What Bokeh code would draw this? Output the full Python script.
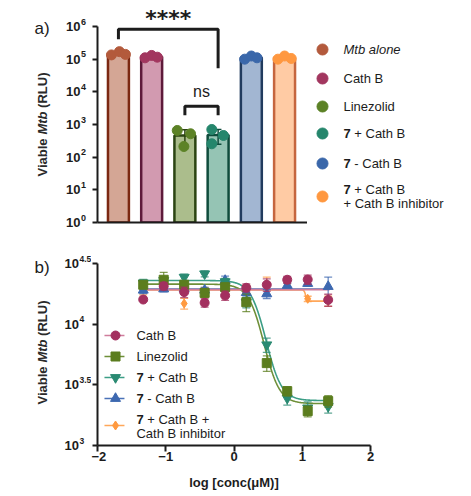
import numpy as np
from bokeh.plotting import figure
from bokeh.models import Range1d, FixedTicker, CustomJSTickFormatter
from bokeh.layouts import column, row
from bokeh.embed import file_html
from bokeh.resources import INLINE
from bokeh.core.properties import value

FONT = "Liberation Sans"
INK = "#1c1c1c"

# ---------------- panel a: viable Mtb after treatment ----------------
groups = ["Mtb alone", "Cath B", "Linezolid", "7 + Cath B", "7 - Cath B",
          "7 + Cath B + Cath B inhibitor"]
rep1 = [1.35e5, 1.10e5, 656, 703, 1.00e5, 1.00e5]
rep2 = [1.70e5, 1.30e5, 520, 461, 1.25e5, 1.25e5]
rep3 = [1.40e5, 1.15e5, 212, 257, 1.10e5, 1.05e5]
a_exps = ["0", "1", "2", "3", "4", "5", "6"]

bar_fill = ["#D4A695", "#D29AB0", "#ABBD8C", "#95C4B4", "#A2B6D2", "#FFCBA4"]
bar_line = ["#7B2812", "#5E1A3A", "#2B4412", "#0F4C3C", "#213B5E", "#C5663F"]
dot_col = ["#B35A3C", "#A2365F", "#5C8226", "#25866C", "#3A67AA", "#FF9840"]

# horizontal spread of the replicate dots on each bar
spread = [[-0.21, 0.03, 0.21], [-0.20, 0.0, 0.17], [-0.23, 0.17, -0.03],
          [-0.19, 0.16, -0.19], [-0.20, 0.0, 0.17], [-0.20, 0.0, 0.20]]

reps = np.array([rep1, rep2, rep3])
means = reps.mean(axis=0)
sds = reps.std(axis=0, ddof=1)
xpos = np.arange(1, len(groups) + 1)
a_ticks = [10.0 ** int(e) for e in a_exps]

# page geometry (pixels from the top-left of the page)
HA, HB = 240, 256
SIDE_A, SIDE_B = 90, 91        # widths of the strips holding tick labels and titles
A_X0, A_X1 = 97, 307           # panel a plot area, left/right
A_Y6, A_Y0 = 26, 222           # panel a: height of 1e6 / 1e0
A_XR = (0.37, 6.69)
DEC_A = (A_Y0 - A_Y6) / 6.0
B_X0, B_X1 = 97, 370
B_YT, B_YB = 263, 445          # panel b plot area top (10^4.5) / bottom (10^3)
DEC_B = (B_YB - B_YT) / 1.5


def a_val(ypix):
    return 10 ** (6 - (ypix - A_Y6) / DEC_A)


def b_val(ypix):
    return 10 ** (4.5 - (ypix - B_YT) / DEC_B)


def b_val_local(ypix):
    return b_val(ypix + HA)


blank = CustomJSTickFormatter(code="return ' '")


def hide_labels(ax):
    ax.formatter = blank
    ax.major_label_text_font_size = "1px"
    ax.major_label_text_color = None
    ax.major_label_standoff = 0


def plain(fig):
    fig.outline_line_color = None
    fig.grid.visible = False
    fig.frame_align = False
    return fig


def side_texts(fig, ticks, exps, val, title_yc, label_y, label, x10, exp_size):
    """tick labels 10^n, the rotated axis title and the panel letter"""
    fig.text(x=[x10] * len(ticks), y=ticks, text=["10"] * len(ticks), text_align="right",
             text_baseline="middle", text_font=value(FONT), text_font_size="13px",
             text_font_style="bold", text_color=INK)
    ex_y = [t * (val(0) / val(5)) for t in ticks]
    fig.text(x=[x10 + 0.5] * len(ticks), y=ex_y, text=exps, text_align="left",
             text_baseline="middle", text_font=value(FONT), text_font_size=exp_size,
             text_font_style="bold", text_color=INK)
    # "Viable Mtb (RLU)" read bottom-to-top, organism name in italics
    parts = [("Viable", "bold", 0.0), ("Mtb", "bold italic", 41.9), ("(RLU)", "bold", 68.6)]
    total = 104.0
    ybot = title_yc + total / 2
    for txt, style, off in parts:
        fig.text(x=[42], y=[val(ybot - off)], text=[txt], angle=np.pi / 2, text_align="left",
                 text_baseline="middle", text_font=value(FONT), text_font_size="13px",
                 text_font_style=style, text_color="#2a2a2a")
    fig.text(x=[34], y=[val(label_y)], text=[label], text_baseline="middle",
             text_font=value(FONT), text_font_size="17px", text_color=INK)


# left strip of panel a
ya = plain(figure(width=SIDE_A, height=HA, x_range=Range1d(0, SIDE_A),
                  y_range=Range1d(a_val(HA), a_val(0)), y_axis_type="log",
                  x_axis_location=None, y_axis_location=None, min_border=0,
                  output_backend="svg", toolbar_location=None))
side_texts(ya, a_ticks, a_exps, a_val, 124, 28, "a)", 80, "9px")

# bar chart; its plot area reaches the top of the page so the stars fit inside,
# while the y axis itself stops at 1e6
pa = plain(figure(width=A_X1 - SIDE_A, height=HA, y_axis_type="log",
                  x_range=Range1d(*A_XR), y_range=Range1d(1, a_val(0)),
                  output_backend="svg", toolbar_location=None,
                  min_border_left=A_X0 - SIDE_A, min_border_right=0,
                  min_border_top=0, min_border_bottom=HA - A_Y0))

pa.vbar(x=xpos, top=means, bottom=1, width=0.63, fill_color=bar_fill,
        line_color=bar_line, line_width=2.5)

# error bars (mean +/- SD) on the low groups
for i in (2, 3):
    lo, hi = means[i] - sds[i], means[i] + sds[i]
    pa.segment(x0=[xpos[i]], y0=[lo], x1=[xpos[i]], y1=[hi], line_color=bar_line[i], line_width=1.5)
    pa.segment(x0=[xpos[i] - 0.1, xpos[i] - 0.1], y0=[lo, hi], x1=[xpos[i] + 0.1, xpos[i] + 0.1],
               y1=[lo, hi], line_color=bar_line[i], line_width=1.5)

for i in range(len(groups)):
    pa.scatter(x=[xpos[i] + d for d in spread[i]], y=list(reps[:, i]), size=10,
               fill_color=dot_col[i], line_color=dot_col[i])

# significance brackets
pa.line(x=[1, 1, 4, 4], y=[10**5.61, 10**5.914, 10**5.914, 10**4.72], line_color=INK, line_width=3)
pa.line(x=[3, 3, 4, 4], y=[10**3.285, 10**3.56, 10**3.56, 10**3.285], line_color=INK, line_width=3)
pa.text(x=[2.5], y=[a_val(18)], text=["****"], text_align="center", text_baseline="middle",
        text_font=value("DejaVu Sans"), text_font_size="22px", text_font_style="bold", text_color=INK)
pa.text(x=[3.5], y=[10**4.0], text=["ns"], text_align="center", text_baseline="middle",
        text_font=value(FONT), text_font_size="16px", text_color=INK)

pa.xaxis.ticker = FixedTicker(ticks=list(xpos))
pa.xaxis.major_tick_line_color = None
hide_labels(pa.xaxis)
pa.yaxis.ticker = FixedTicker(ticks=a_ticks)
pa.yaxis.bounds = (1, 1e6)
hide_labels(pa.yaxis)
for ax in (pa.xaxis, pa.yaxis):
    ax.axis_line_width = 2
    ax.axis_line_color = INK
    ax.minor_tick_line_color = None
pa.yaxis.major_tick_line_width = 2
pa.yaxis.major_tick_line_color = INK
pa.yaxis.major_tick_out = 5
pa.yaxis.major_tick_in = 0

# legend for panel a (own canvas, y measured downward)
la = plain(figure(width=471 - A_X1, height=HA, x_range=Range1d(0, 471 - A_X1), y_range=Range1d(HA, 0),
                  x_axis_location=None, y_axis_location=None, min_border=0,
                  output_backend="svg", toolbar_location=None))
leg_rows = [49, 78, 106, 133, 163, 196]
la.scatter(x=[15] * 6, y=leg_rows, size=11, fill_color=dot_col, line_color=dot_col)
tx = 36
la.text(x=[tx], y=[leg_rows[0]], text=["Mtb alone"], text_font=value(FONT), text_font_size="13px",
        text_font_style="italic", text_baseline="middle", text_color=INK)
la.text(x=[tx, tx], y=[leg_rows[1], leg_rows[2]], text=["Cath B", "Linezolid"], text_font=value(FONT),
        text_font_size="13px", text_baseline="middle", text_color=INK)
la.text(x=[tx, tx, tx], y=[leg_rows[3], leg_rows[4], 189], text=["7", "7", "7"],
        text_font=value(FONT), text_font_size="13px", text_font_style="bold", text_baseline="middle",
        text_color=INK)
la.text(x=[tx + 10.8, tx + 10.8, tx + 10.8, tx], y=[leg_rows[3], leg_rows[4], 189, 203],
        text=["+ Cath B", "- Cath B", "+ Cath B", "+ Cath B inhibitor"], text_font=value(FONT),
        text_font_size="13px", text_baseline="middle", text_color=INK)

# ---------------- panel b: dose response ----------------
logc = [-1.33, -1.03, -0.73, -0.43, -0.13, 0.18, 0.48, 0.78, 1.08, 1.38]

cathb = [15960, 20560, 18370, 15000, 17220, 19950, 21130, 23230, 23330, 15850]
cathb_sd = [500, 1500, 1800, 1200, 1500, 1500, 2500, 1500, 2000, 1800]
linez = [21130, 23230, 21130, 18110, 20180, 15170, 4775, 2805, 1919, 2323]
linez_sd = [1500, 3500, 1500, 1500, 1500, 2500, 700, 250, 200, 250]
c7_cathb = [21880, 22910, 24380, 26000, 22390, 15140, 6761, 2455, 2042, 2099]
c7_cathb_sd = [1500, 1500, 1500, 1500, 1500, 1500, 900, 300, 250, 250]
c7_nocathb = [19050, 19500, 19500, 19050, 22910, 18200, 17780, 20850, 21630, 20420]
c7_nocathb_sd = [1200, 1000, 1000, 1000, 2000, 1500, 1500, 1000, 1000, 4000]
c7_inhib = [19950, 20180, 14790, 18620, 19500, 19500, 20890, 21380, 16180, 15490]
c7_inhib_sd = [2500, 1000, 1500, 1500, 1000, 1500, 3500, 1500, 800, 1500]
b_exps = ["3", "3.5", "4", "4.5"]
b_ticks = [10 ** float(e) for e in b_exps]

# fitted curves: log10 top, log10 bottom, logIC50, Hill slope
fit_cathb = [4.285, 4.285, 0.0, 1.0]
fit_linez = [4.33, 3.345, 0.44, 3.8]
fit_c7_cathb = [4.36, 3.37, 0.47, 3.8]
fit_c7_nocathb = [4.29, 4.29, 0.0, 1.0]
fit_c7_inhib = [4.283, 4.19, 1.05, 40.0]

series = [
    ("Cath B", cathb, cathb_sd, fit_cathb, "circle", 9, "#A3305F", "#CF7D9C"),
    ("Linezolid", linez, linez_sd, fit_linez, "square", 9, "#5B7D1E", "#6E8F38"),
    ("7 + Cath B", c7_cathb, c7_cathb_sd, fit_c7_cathb, "inverted_triangle", 10, "#2A8A72", "#3C9E86"),
    ("7 - Cath B", c7_nocathb, c7_nocathb_sd, fit_c7_nocathb, "triangle", 10, "#3D68B0", "#4A72B8"),
    ("7 + Cath B + Cath B inhibitor", c7_inhib, c7_inhib_sd, fit_c7_inhib, "diamond", 9, "#FF9A40", "#FFA75A"),
]

# left strip of panel b
yb = plain(figure(width=SIDE_B, height=HB, x_range=Range1d(0, SIDE_B),
                  y_range=Range1d(b_val_local(HB), b_val_local(0)), y_axis_type="log",
                  x_axis_location=None, y_axis_location=None, min_border=0,
                  output_backend="svg", toolbar_location=None))
side_texts(yb, b_ticks, b_exps, b_val_local, 352 - HA, 267 - HA, "b)", 78.5, "8.5px")

pb = plain(figure(width=471 - SIDE_B, height=HB, y_axis_type="log",
                  x_range=Range1d(-2, 2), y_range=Range1d(10**3, 10**4.5),
                  output_backend="svg", toolbar_location=None,
                  min_border_left=B_X0 - SIDE_B, min_border_right=471 - B_X1,
                  min_border_top=B_YT - HA, min_border_bottom=HA + HB - B_YB))

xs = np.linspace(-1.38, 1.40, 300)
draw_order = [4, 3, 2, 1, 0]
for k in draw_order:
    name, ys, sd, fit, mk, sz, col, lcol = series[k]
    top, bot, ic50, hill = fit
    curve = bot + (top - bot) / (1 + 10 ** ((xs - ic50) * hill))
    pb.line(x=xs, y=10 ** curve, line_color=lcol, line_width=1.6)

for k in draw_order:
    name, ys, sd, fit, mk, sz, col, lcol = series[k]
    lo = [y - s for y, s in zip(ys, sd)]
    hi = [y + s for y, s in zip(ys, sd)]
    pb.segment(x0=logc, y0=lo, x1=logc, y1=hi, line_color=col, line_alpha=0.75, line_width=1.3)
    cx0 = [c - 0.058 for c in logc]
    cx1 = [c + 0.058 for c in logc]
    pb.segment(x0=cx0 + cx0, y0=lo + hi, x1=cx1 + cx1, y1=lo + hi, line_color=col, line_alpha=0.75,
               line_width=1.3)
    pb.scatter(x=logc, y=ys, marker=mk, size=sz, fill_color=col, line_color=col)

# legend for panel b
lx0, lx1, lxm, ltx = -1.898, -1.605, -1.736, -1.43
leg_y = [335, 356, 377, 398, 425]
for k in range(5):
    name, ys, sd, fit, mk, sz, col, lcol = series[k]
    pb.line(x=[lx0, lx1], y=[b_val(leg_y[k])] * 2, line_color=lcol, line_width=1.6)
    pb.scatter(x=[lxm], y=[b_val(leg_y[k])], marker=mk, size=sz, fill_color=col, line_color=col)

step7 = 10.8 / ((B_X1 - B_X0) / 4.0)
pb.text(x=[ltx, ltx], y=[b_val(335), b_val(356)], text=["Cath B", "Linezolid"],
        text_font=value(FONT), text_font_size="13px", text_baseline="middle", text_color=INK)
pb.text(x=[ltx, ltx, ltx], y=[b_val(377), b_val(398), b_val(419)], text=["7", "7", "7"],
        text_font=value(FONT), text_font_size="13px", text_font_style="bold", text_baseline="middle",
        text_color=INK)
pb.text(x=[ltx + step7, ltx + step7, ltx + step7, ltx],
        y=[b_val(377), b_val(398), b_val(419), b_val(433)],
        text=["+ Cath B", "- Cath B", "+ Cath B +", "Cath B inhibitor"], text_font=value(FONT),
        text_font_size="13px", text_baseline="middle", text_color=INK)

pb.xaxis.ticker = FixedTicker(ticks=[-2, -1, 0, 1, 2])
pb.xaxis.major_label_text_font = FONT
pb.xaxis.major_label_text_font_size = "13px"
pb.xaxis.major_label_text_font_style = "bold"
pb.xaxis.major_label_text_color = INK
pb.xaxis.major_label_standoff = 0
pb.xaxis.axis_label = "log [conc(\u03bcM)]"
pb.xaxis.axis_label_text_font = FONT
pb.xaxis.axis_label_text_font_size = "13px"
pb.xaxis.axis_label_text_font_style = "bold"
pb.xaxis.axis_label_text_color = INK
pb.xaxis.axis_label_standoff = 11
for ax in (pb.xaxis, pb.yaxis):
    ax.axis_line_width = 2
    ax.axis_line_color = INK
    ax.major_tick_line_width = 2
    ax.major_tick_line_color = INK
    ax.major_tick_out = 6
    ax.major_tick_in = 0
    ax.minor_tick_line_color = None
pb.yaxis.major_tick_out = 5
pb.yaxis.ticker = FixedTicker(ticks=b_ticks)
hide_labels(pb.yaxis)

layout = column(row(ya, pa, la), row(yb, pb))
open("out.html", "w").write(file_html(layout, INLINE))
